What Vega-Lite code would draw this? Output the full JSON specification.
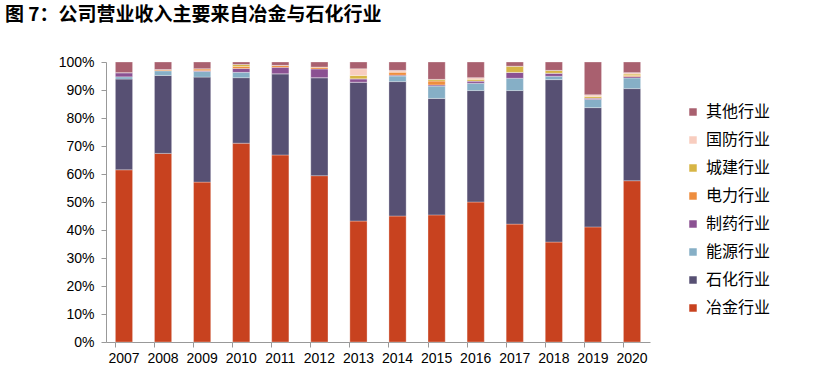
{
  "$schema": "https://vega.github.io/schema/vega-lite/v6.json",
  "width": 544,
  "height": 280,
  "autosize": "none",
  "padding": {"left": 106, "top": 62, "right": 168, "bottom": 37},
  "background": "white",
  "config": {"view": {"stroke": null}, "font": "Liberation Sans"},
  "title": {
    "text": "图 7：公司营业收入主要来自冶金与石化行业",
    "anchor": "start",
    "frame": "group",
    "dx": -101,
    "offset": 30,
    "font": "Noto Sans CJK SC",
    "fontSize": 19,
    "fontWeight": "bold",
    "color": "#000000"
  },
  "datasets": {
    "rows": [
      {"year":"2007","ind":"冶金行业","k":1,"v":61.5},{"year":"2007","ind":"石化行业","k":2,"v":32.4},{"year":"2007","ind":"能源行业","k":3,"v":0.8},{"year":"2007","ind":"制药行业","k":4,"v":1.5},{"year":"2007","ind":"电力行业","k":5,"v":0},{"year":"2007","ind":"城建行业","k":6,"v":0},{"year":"2007","ind":"国防行业","k":7,"v":0},{"year":"2007","ind":"其他行业","k":8,"v":3.8},
      {"year":"2008","ind":"冶金行业","k":1,"v":67.5},{"year":"2008","ind":"石化行业","k":2,"v":27.9},{"year":"2008","ind":"能源行业","k":3,"v":1.7},{"year":"2008","ind":"制药行业","k":4,"v":0},{"year":"2008","ind":"电力行业","k":5,"v":0.4},{"year":"2008","ind":"城建行业","k":6,"v":0},{"year":"2008","ind":"国防行业","k":7,"v":0},{"year":"2008","ind":"其他行业","k":8,"v":2.7},
      {"year":"2009","ind":"冶金行业","k":1,"v":57.1},{"year":"2009","ind":"石化行业","k":2,"v":37.5},{"year":"2009","ind":"能源行业","k":3,"v":2.0},{"year":"2009","ind":"制药行业","k":4,"v":0.3},{"year":"2009","ind":"电力行业","k":5,"v":0.7},{"year":"2009","ind":"城建行业","k":6,"v":0},{"year":"2009","ind":"国防行业","k":7,"v":0},{"year":"2009","ind":"其他行业","k":8,"v":2.4},
      {"year":"2010","ind":"冶金行业","k":1,"v":71.0},{"year":"2010","ind":"石化行业","k":2,"v":23.4},{"year":"2010","ind":"能源行业","k":3,"v":1.9},{"year":"2010","ind":"制药行业","k":4,"v":1.4},{"year":"2010","ind":"电力行业","k":5,"v":0.7},{"year":"2010","ind":"城建行业","k":6,"v":0.7},{"year":"2010","ind":"国防行业","k":7,"v":0},{"year":"2010","ind":"其他行业","k":8,"v":0.9},
      {"year":"2011","ind":"冶金行业","k":1,"v":66.8},{"year":"2011","ind":"石化行业","k":2,"v":29.0},{"year":"2011","ind":"能源行业","k":3,"v":0},{"year":"2011","ind":"制药行业","k":4,"v":2.3},{"year":"2011","ind":"电力行业","k":5,"v":0.7},{"year":"2011","ind":"城建行业","k":6,"v":0},{"year":"2011","ind":"国防行业","k":7,"v":0},{"year":"2011","ind":"其他行业","k":8,"v":1.2},
      {"year":"2012","ind":"冶金行业","k":1,"v":59.4},{"year":"2012","ind":"石化行业","k":2,"v":35.0},{"year":"2012","ind":"能源行业","k":3,"v":0},{"year":"2012","ind":"制药行业","k":4,"v":3.1},{"year":"2012","ind":"电力行业","k":5,"v":0.7},{"year":"2012","ind":"城建行业","k":6,"v":0},{"year":"2012","ind":"国防行业","k":7,"v":0},{"year":"2012","ind":"其他行业","k":8,"v":1.8},
      {"year":"2013","ind":"冶金行业","k":1,"v":43.2},{"year":"2013","ind":"石化行业","k":2,"v":49.6},{"year":"2013","ind":"能源行业","k":3,"v":0},{"year":"2013","ind":"制药行业","k":4,"v":1.2},{"year":"2013","ind":"电力行业","k":5,"v":0},{"year":"2013","ind":"城建行业","k":6,"v":1.2},{"year":"2013","ind":"国防行业","k":7,"v":2.4},{"year":"2013","ind":"其他行业","k":8,"v":2.4},
      {"year":"2014","ind":"冶金行业","k":1,"v":45.0},{"year":"2014","ind":"石化行业","k":2,"v":48.0},{"year":"2014","ind":"能源行业","k":3,"v":2.0},{"year":"2014","ind":"制药行业","k":4,"v":0.3},{"year":"2014","ind":"电力行业","k":5,"v":1.1},{"year":"2014","ind":"城建行业","k":6,"v":0},{"year":"2014","ind":"国防行业","k":7,"v":0.6},{"year":"2014","ind":"其他行业","k":8,"v":3.0},
      {"year":"2015","ind":"冶金行业","k":1,"v":45.4},{"year":"2015","ind":"石化行业","k":2,"v":41.6},{"year":"2015","ind":"能源行业","k":3,"v":4.4},{"year":"2015","ind":"制药行业","k":4,"v":0.4},{"year":"2015","ind":"电力行业","k":5,"v":1.4},{"year":"2015","ind":"城建行业","k":6,"v":0.6},{"year":"2015","ind":"国防行业","k":7,"v":0},{"year":"2015","ind":"其他行业","k":8,"v":6.2},
      {"year":"2016","ind":"冶金行业","k":1,"v":50.0},{"year":"2016","ind":"石化行业","k":2,"v":39.8},{"year":"2016","ind":"能源行业","k":3,"v":2.6},{"year":"2016","ind":"制药行业","k":4,"v":0.8},{"year":"2016","ind":"电力行业","k":5,"v":0},{"year":"2016","ind":"城建行业","k":6,"v":0.6},{"year":"2016","ind":"国防行业","k":7,"v":0.6},{"year":"2016","ind":"其他行业","k":8,"v":5.6},
      {"year":"2017","ind":"冶金行业","k":1,"v":42.1},{"year":"2017","ind":"石化行业","k":2,"v":47.7},{"year":"2017","ind":"能源行业","k":3,"v":4.4},{"year":"2017","ind":"制药行业","k":4,"v":2.1},{"year":"2017","ind":"电力行业","k":5,"v":0},{"year":"2017","ind":"城建行业","k":6,"v":2.2},{"year":"2017","ind":"国防行业","k":7,"v":0},{"year":"2017","ind":"其他行业","k":8,"v":1.5},
      {"year":"2018","ind":"冶金行业","k":1,"v":35.7},{"year":"2018","ind":"石化行业","k":2,"v":58.0},{"year":"2018","ind":"能源行业","k":3,"v":1.2},{"year":"2018","ind":"制药行业","k":4,"v":1.1},{"year":"2018","ind":"电力行业","k":5,"v":0},{"year":"2018","ind":"城建行业","k":6,"v":1.0},{"year":"2018","ind":"国防行业","k":7,"v":0},{"year":"2018","ind":"其他行业","k":8,"v":3.0},
      {"year":"2019","ind":"冶金行业","k":1,"v":41.1},{"year":"2019","ind":"石化行业","k":2,"v":42.6},{"year":"2019","ind":"能源行业","k":3,"v":2.9},{"year":"2019","ind":"制药行业","k":4,"v":0.5},{"year":"2019","ind":"电力行业","k":5,"v":0},{"year":"2019","ind":"城建行业","k":6,"v":0.6},{"year":"2019","ind":"国防行业","k":7,"v":0.6},{"year":"2019","ind":"其他行业","k":8,"v":11.7},
      {"year":"2020","ind":"冶金行业","k":1,"v":57.6},{"year":"2020","ind":"石化行业","k":2,"v":32.9},{"year":"2020","ind":"能源行业","k":3,"v":3.8},{"year":"2020","ind":"制药行业","k":4,"v":0.5},{"year":"2020","ind":"电力行业","k":5,"v":0.4},{"year":"2020","ind":"城建行业","k":6,"v":0.5},{"year":"2020","ind":"国防行业","k":7,"v":0.5},{"year":"2020","ind":"其他行业","k":8,"v":3.8}
    ]
  },
  "data": {"name": "rows"},
  "mark": {"type": "bar", "stroke": "#ffffff", "strokeWidth": 0.3},
  "encoding": {
    "x": {
      "field": "year",
      "type": "nominal",
      "sort": null,
      "scale": {"paddingInner": 0.56, "paddingOuter": 0.24},
      "axis": {
        "title": null,
        "labelAngle": 0,
        "labelFont": "Liberation Sans",
        "labelFontSize": 14,
        "labelColor": "#000000",
        "labelPadding": 4,
        "bandPosition": 0,
        "tickSize": 5,
        "domainColor": "#999999",
        "tickColor": "#999999"
      }
    },
    "y": {
      "field": "v",
      "type": "quantitative",
      "stack": "normalize",
      "scale": {"domain": [0, 1], "nice": false},
      "axis": {
        "title": null,
        "format": ".0%",
        "values": [0, 0.1, 0.2, 0.3, 0.4, 0.5, 0.6, 0.7, 0.8, 0.9, 1],
        "grid": false,
        "labelFont": "Liberation Sans",
        "labelFontSize": 14,
        "labelColor": "#000000",
        "labelPadding": 7,
        "tickSize": 5,
        "domainColor": "#999999",
        "tickColor": "#999999"
      }
    },
    "order": {"field": "k", "type": "quantitative", "sort": "ascending"},
    "color": {
      "field": "ind",
      "type": "nominal",
      "scale": {
        "domain": ["其他行业", "国防行业", "城建行业", "电力行业", "制药行业", "能源行业", "石化行业", "冶金行业"],
        "range": ["#A9606F", "#F8CDBF", "#D7B545", "#EE8D3E", "#8B5192", "#86AFC6", "#575073", "#C8421F"]
      },
      "legend": {
        "title": null,
        "orient": "none",
        "legendX": 579,
        "legendY": 42,
        "symbolType": "square",
        "symbolSize": 56,
        "symbolStrokeWidth": 0,
        "labelFont": "Noto Sans CJK SC",
        "labelFontSize": 16,
        "labelColor": "#000000",
        "labelOffset": 5,
        "rowPadding": 12
      }
    }
  }
}
